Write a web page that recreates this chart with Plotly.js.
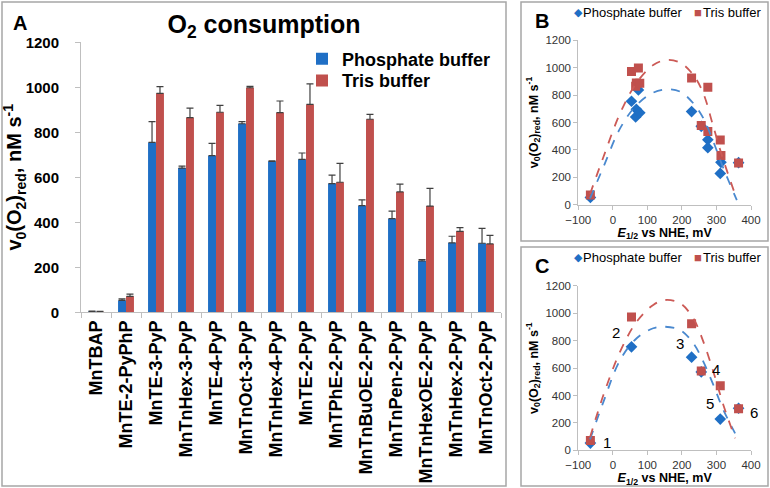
<!DOCTYPE html>
<html><head><meta charset="utf-8">
<script src="https://cdn.plot.ly/plotly-3.0.1.min.js"></script>
<style>html,body{margin:0;padding:0;background:#fff}#chart{width:770px;height:488px}</style>
</head><body><div id="chart"></div>
<script>
// ---- data ----
const categories = ['MnTBAP','MnTE-2-PyPhP','MnTE-3-PyP','MnTnHex-3-PyP','MnTE-4-PyP','MnTnOct-3-PyP','MnTnHex-4-PyP','MnTE-2-PyP','MnTPhE-2-PyP','MnTnBuOE-2-PyP','MnTnPen-2-PyP','MnTnHexOE-2-PyP','MnTnHex-2-PyP','MnTnOct-2-PyP'];
const phosphate    = [4, 53, 755, 641, 696, 838, 671, 680, 572, 474, 416, 228, 309, 307];
const phosphateErr = [1, 7, 92, 9, 55, 9, 2, 28, 38, 26, 34, 6, 29, 66];
const tris         = [3, 71, 973, 865, 889, 998, 887, 924, 578, 858, 535, 472, 360, 304];
const trisErr      = [1, 10, 30, 42, 31, 6, 52, 91, 84, 22, 35, 79, 16, 38];
// E1/2 vs NHE (mV); MnTBAP lies outside the plotted range
const eHalf        = [null, -65, 54, 66, 68, 74, 78, 228, 256, 275, 275, 311, 313, 364];
// panel C subset
const panelCCompounds = ['MnTE-2-PyPhP','MnTE-3-PyP','MnTE-2-PyP','MnTPhE-2-PyP','MnTnHexOE-2-PyP','MnTnOct-2-PyP'];
const panelCNumbers   = ['1','2','3','4','5','6'];
const panelCLabelE    = [-17, 8, 195, 299, 281, 410];
const panelCLabelV    = [58, 861, 776, 590, 343, 277];
// dashed trend curves
const fitB_E    = [-66, -27, 21, 69, 117, 156, 195, 233, 262, 291, 320, 359];
const fitB_tris = [78, 350, 667, 891, 1020, 1056, 1037, 947, 813, 569, 326, 39];
const fitB_phos = [46, 277, 557, 728, 818, 842, 825, 740, 631, 460, 266, 34];
const fitC_E    = [-66, -27, 21, 69, 117, 151, 195, 233, 262, 291, 320, 354];
const fitC_tris = [95, 405, 720, 939, 1061, 1097, 1073, 963, 793, 574, 331, 88];
const fitC_phos = [80, 355, 659, 818, 891, 902, 878, 781, 647, 477, 294, 124];

// ---- styling ----
const FONT = 'Arial, "Liberation Sans", sans-serif';
const BLUE = '#1F6FC5', RED = '#C0504D';
const BLUE_FIT = '#4A89CF', RED_FIT = '#CC5A56';
const AXC = '#BFBFBF';
const W = 770, H = 488;
const px = v => v / W, py = v => 1 - v / H;

const cIdx = panelCCompounds.map(c => categories.indexOf(c));
const pick = (arr) => cIdx.map(i => arr[i]);

const traces = [
  {type:'bar', x:categories, y:phosphate, name:'Phosphate buffer', marker:{color:BLUE},
   error_y:{type:'data', symmetric:false, array:phosphateErr, arrayminus:phosphateErr.map(()=>0), color:'#404040', thickness:1.2, width:3.5},
   xaxis:'x', yaxis:'y', legend:'legend'},
  {type:'bar', x:categories, y:tris, name:'Tris buffer', marker:{color:RED},
   error_y:{type:'data', symmetric:false, array:trisErr, arrayminus:trisErr.map(()=>0), color:'#404040', thickness:1.2, width:3.5},
   xaxis:'x', yaxis:'y', legend:'legend2'},
  // panel B
  {type:'scatter', mode:'markers', x:eHalf, y:phosphate, name:'Phosphate buffer', showlegend:false,
   marker:{symbol:'diamond', size:9, color:BLUE}, xaxis:'x2', yaxis:'y2'},
  {type:'scatter', mode:'markers', x:eHalf, y:tris, name:'Tris buffer', showlegend:false,
   marker:{symbol:'square', size:9, color:RED}, xaxis:'x2', yaxis:'y2'},
  {type:'scatter', mode:'lines', x:fitB_E, y:fitB_phos, showlegend:false, hoverinfo:'skip',
   line:{color:BLUE_FIT, width:1.8, dash:'dash', shape:'spline'}, xaxis:'x2', yaxis:'y2'},
  {type:'scatter', mode:'lines', x:fitB_E, y:fitB_tris, showlegend:false, hoverinfo:'skip',
   line:{color:RED_FIT, width:1.8, dash:'dash', shape:'spline'}, xaxis:'x2', yaxis:'y2'},
  // panel C
  {type:'scatter', mode:'markers', x:pick(eHalf), y:pick(phosphate), name:'Phosphate buffer', showlegend:false,
   marker:{symbol:'diamond', size:9, color:BLUE}, xaxis:'x3', yaxis:'y3'},
  {type:'scatter', mode:'markers', x:pick(eHalf), y:pick(tris), name:'Tris buffer', showlegend:false,
   marker:{symbol:'square', size:9, color:RED}, xaxis:'x3', yaxis:'y3'},
  {type:'scatter', mode:'lines', x:fitC_E, y:fitC_phos, showlegend:false, hoverinfo:'skip',
   line:{color:BLUE_FIT, width:1.8, dash:'dash', shape:'spline'}, xaxis:'x3', yaxis:'y3'},
  {type:'scatter', mode:'lines', x:fitC_E, y:fitC_tris, showlegend:false, hoverinfo:'skip',
   line:{color:RED_FIT, width:1.8, dash:'dash', shape:'spline'}, xaxis:'x3', yaxis:'y3'}
];

const smallAxis = (dom, anchor) => ({
  domain: dom, anchor: anchor, showline:true, linecolor:AXC, linewidth:1,
  ticks:'outside', ticklen:4, tickcolor:AXC, showgrid:false, zeroline:false,
  tickfont:{family:FONT, size:11.5, color:'#333'}
});

const yTitleSmall = {text:'v<sub>0</sub>(O<sub>2</sub>)<sub>red</sub>, nM s<sup>-1</sup>', font:{family:FONT, size:12.5, weight:'bold', color:'#000'}, standoff:4};
const xTitleSmall = {text:'<i>E</i><sub>1/2</sub> vs NHE, mV', font:{family:FONT, size:12.5, weight:'bold', color:'#000'}, standoff:2};

const xDomC = [px(578.3), px(751)], yDomC = [py(450.3), py(285.9)];
const xRangeC = [-100, 400], yRangeC = [0, 1200];
const legendFont = {family:FONT, size:18, weight:'bold', color:'#000'};

const layout = {
  width:W, height:H, margin:{l:0, r:0, t:0, b:0},
  paper_bgcolor:'#fff', plot_bgcolor:'rgba(0,0,0,0)',
  font:{family:FONT, color:'#000'},
  barmode:'group', bargap:0.47, bargroupgap:0,
  title:{text:'O<sub>2</sub> consumption', font:{family:FONT, size:25, weight:'bold', color:'#000'},
         xref:'paper', yref:'paper', x:px(264), xanchor:'center', y:py(24), yanchor:'middle'},
  xaxis:{domain:[px(81), px(501)], anchor:'y', type:'category', tickangle:-90,
         tickfont:{family:FONT, size:18, weight:'bold', color:'#000'},
         showline:true, linecolor:AXC, ticks:'outside', tickson:'boundaries', ticklen:5, tickcolor:AXC,
         showgrid:false, zeroline:false},
  yaxis:{domain:[py(312.3), py(42.3)], anchor:'x', range:[0,1200], tickmode:'linear', tick0:0, dtick:200,
         tickfont:{family:FONT, size:15, weight:'bold', color:'#000'},
         showline:true, linecolor:AXC, ticks:'outside', ticklen:5, tickcolor:AXC, ticklabelstandoff:13,
         showgrid:false, zeroline:false,
         title:{text:'v<sub>0</sub>(O<sub>2</sub>)<sub>red</sub>, nM s<sup>-1</sup>', font:{family:FONT, size:20, weight:'bold', color:'#000'}, standoff:2}},
  xaxis2:Object.assign(smallAxis([px(578.3), px(751)], 'y2'), {range:[-100,400], tickmode:'linear', tick0:-100, dtick:100, title:xTitleSmall}),
  yaxis2:Object.assign(smallAxis([py(204.7), py(40.3)], 'x2'), {range:[0,1200], tickmode:'linear', tick0:0, dtick:200, title:yTitleSmall}),
  xaxis3:Object.assign(smallAxis(xDomC, 'y3'), {range:xRangeC, tickmode:'linear', tick0:-100, dtick:100, title:xTitleSmall}),
  yaxis3:Object.assign(smallAxis(yDomC, 'x3'), {range:yRangeC, tickmode:'linear', tick0:0, dtick:200, title:yTitleSmall}),
  legend:{x:px(302), y:py(40.5), xanchor:'left', yanchor:'top', bgcolor:'rgba(0,0,0,0)', font:legendFont},
  legend2:{x:px(302), y:py(62.2), xanchor:'left', yanchor:'top', bgcolor:'rgba(0,0,0,0)', font:legendFont},
  shapes:[
    {type:'rect', xref:'paper', yref:'paper', x0:px(2), x1:px(506), y0:py(486), y1:py(2), line:{color:'#A6A6A6', width:1.5}},
    {type:'rect', xref:'paper', yref:'paper', x0:px(521), x1:px(768), y0:py(241), y1:py(2), line:{color:'#A6A6A6', width:1.5}},
    {type:'rect', xref:'paper', yref:'paper', x0:px(521), x1:px(768), y0:py(486), y1:py(247), line:{color:'#A6A6A6', width:1.5}}
  ],
  annotations:[]
};

const ann = layout.annotations;
const panelLabel = (t, x, y) => ann.push({text:t, xref:'paper', yref:'paper', x:px(x), y:py(y), xanchor:'center', yanchor:'middle', showarrow:false, font:{family:FONT, size:20, weight:'bold', color:'#000'}});
panelLabel('A', 20, 23.5);
panelLabel('B', 541.5, 20.5);
panelLabel('C', 541.7, 266.2);

// legends of panels B and C
[12.3, 257.3].forEach(yc => {
  ann.push({text:'◆', xref:'paper', yref:'paper', x:px(578.5), y:py(yc), xanchor:'center', yanchor:'middle', showarrow:false, font:{family:FONT, size:11, color:BLUE}});
  ann.push({text:'Phosphate buffer', xref:'paper', yref:'paper', x:px(581), y:py(yc), xanchor:'left', yanchor:'middle', showarrow:false, font:{family:FONT, size:13, color:'#000'}});
  ann.push({text:'■', xref:'paper', yref:'paper', x:px(698), y:py(yc), xanchor:'center', yanchor:'middle', showarrow:false, font:{family:FONT, size:13, color:RED}});
  ann.push({text:'Tris buffer', xref:'paper', yref:'paper', x:px(701), y:py(yc), xanchor:'left', yanchor:'middle', showarrow:false, font:{family:FONT, size:13, color:'#000'}});
});

// compound numbers in panel C (mapped through panel C's axis scale into paper space,
// so that the label lying just beyond the x range is still drawn)
const toPaperX = e => xDomC[0] + (e - xRangeC[0]) / (xRangeC[1] - xRangeC[0]) * (xDomC[1] - xDomC[0]);
const toPaperY = v => yDomC[0] + (v - yRangeC[0]) / (yRangeC[1] - yRangeC[0]) * (yDomC[1] - yDomC[0]);
panelCNumbers.forEach((t, i) => ann.push({text:t, xref:'paper', yref:'paper', x:toPaperX(panelCLabelE[i]), y:toPaperY(panelCLabelV[i]), xanchor:'center', yanchor:'middle', showarrow:false, font:{family:FONT, size:15, color:'#000'}}));

Plotly.newPlot('chart', traces, layout, {displayModeBar:false, staticPlot:true});
</script>
</body></html>
